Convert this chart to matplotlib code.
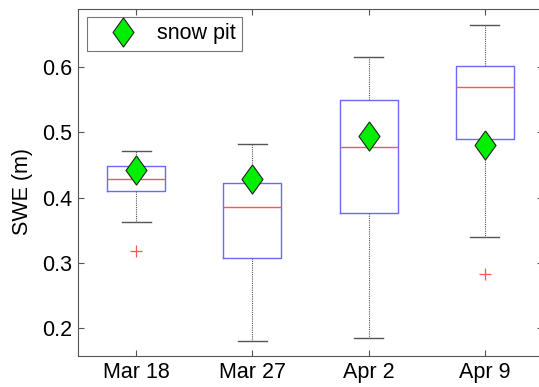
import matplotlib
matplotlib.use('Agg')
import matplotlib.pyplot as plt

# box stats (SWE in m)
dates = ['Mar 18', 'Mar 27', 'Apr 2', 'Apr 9']
whislo = [0.362, 0.180, 0.185, 0.339]
q1 = [0.410, 0.308, 0.376, 0.490]
med = [0.429, 0.385, 0.478, 0.570]
q3 = [0.448, 0.423, 0.550, 0.6015]
whishi = [0.471, 0.482, 0.615, 0.665]
fliers = [[0.318], [], [], [0.282]]
snow_pit = [0.442, 0.428, 0.494, 0.480]

plt.rcParams['font.family'] = ['Liberation Sans', 'DejaVu Sans']

fig = plt.figure(figsize=(5.39, 3.87), dpi=100)
ax = fig.add_axes([0.1447, 0.0801, 0.8627, 0.8966])

stats = []
for i in range(len(dates)):
    stats.append({'label': dates[i], 'whislo': whislo[i], 'q1': q1[i], 'med': med[i],
                  'q3': q3[i], 'whishi': whishi[i], 'fliers': fliers[i]})

pos = list(range(1, len(dates) + 1))
ax.bxp(stats, positions=pos, widths=0.5, showfliers=True,
       boxprops=dict(color='#6a6aff', linewidth=1.0),
       medianprops=dict(color='#ff5555', linewidth=1.0),
       whiskerprops=dict(color='#555555', linewidth=0.8, linestyle=(0, (1, 1))),
       capprops=dict(color='#555555', linewidth=1.0),
       flierprops=dict(marker='+', markeredgecolor='#ff5555', markersize=8, markeredgewidth=0.9))

diamond = [(0, 1), (0.72, 0), (0, -1), (-0.72, 0), (0, 1)]
ax.plot(pos, snow_pit, linestyle='none', marker=diamond, markersize=21,
        markerfacecolor='#00ee00', markeredgecolor='#222222', markeredgewidth=0.8,
        label='snow pit', zorder=5)

ax.set_xlim(0.5, 4.5)
ax.set_ylim(0.157, 0.689)
ax.set_xticks(pos)
ax.set_xticklabels(dates)
ax.set_yticks([0.2, 0.3, 0.4, 0.5, 0.6])
ax.set_ylabel('SWE (m)', fontsize=15.5)
ax.yaxis.set_label_coords(-0.097, 0.475)
ax.tick_params(direction='in', length=4, labelsize=15.5, top=True, right=True,
               color='#555555', pad=4)
for s in ax.spines.values():
    s.set_color('#555555')

leg = ax.legend(loc='upper left', fontsize=15.5, frameon=True, fancybox=False,
                borderpad=0.3, borderaxespad=0, handlelength=2.8, handletextpad=0.16,
                bbox_to_anchor=(0.019, 0.977))
leg.get_frame().set_edgecolor('#555555')
leg.get_frame().set_linewidth(0.8)

fig.savefig('out.png', dpi=100)
